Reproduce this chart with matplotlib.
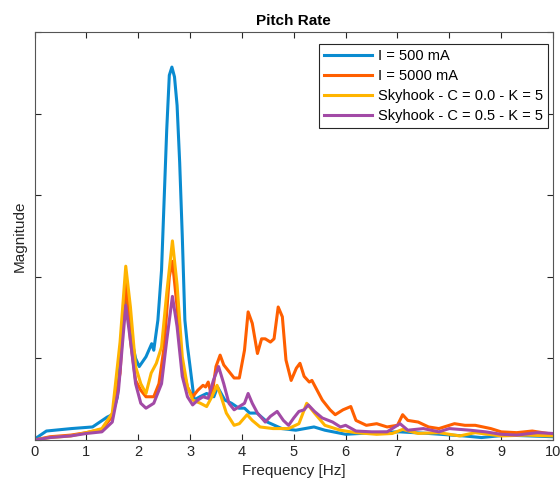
import matplotlib
matplotlib.use("Agg")
import matplotlib.pyplot as plt
import numpy as np

plt.rcParams['font.family'] = ['Liberation Sans', 'DejaVu Sans']

# frequency points [Hz] and magnitudes
f_500 = [0, 0.23, 0.71, 1.12, 1.4, 1.5, 1.6, 1.68, 1.76, 1.85, 1.95, 2.02, 2.15, 2.26, 2.3,
         2.38, 2.45, 2.5, 2.55, 2.6, 2.65, 2.7, 2.75, 2.8, 2.85, 2.9, 2.95, 3.0, 3.08, 3.19,
         3.32, 3.46, 3.53, 3.67, 3.8, 3.94, 4.05, 4.15, 4.29, 4.49, 4.77, 5.04, 5.39, 5.6,
         6.0, 6.56, 7.04, 7.6, 8.28, 8.62, 9.1, 10]
m_500 = [0.01, 0.11, 0.14, 0.16, 0.28, 0.31, 0.53, 1.2, 1.9, 1.3, 1.0, 0.9, 1.02, 1.18, 1.1,
         1.47, 2.08, 2.94, 3.8, 4.47, 4.57, 4.45, 4.1, 3.4, 2.5, 1.47, 1.15, 0.9, 0.49, 0.53,
         0.57, 0.53, 0.65, 0.49, 0.45, 0.39, 0.39, 0.33, 0.33, 0.22, 0.14, 0.12, 0.16, 0.12,
         0.07, 0.09, 0.1, 0.08, 0.05, 0.03, 0.06, 0.04]

f_5000 = [0, 0.3, 0.7, 1.0, 1.3, 1.5, 1.65, 1.76, 1.85, 1.95, 2.05, 2.15, 2.3, 2.4, 2.5, 2.6,
          2.66, 2.75, 2.85, 2.95, 3.05, 3.15, 3.25, 3.3, 3.35, 3.42, 3.5, 3.58, 3.65, 3.75,
          3.85, 3.95, 4.05, 4.12, 4.2, 4.3, 4.38, 4.45, 4.55, 4.62, 4.7, 4.78, 4.85, 4.95,
          5.05, 5.12, 5.2, 5.3, 5.35, 5.45, 5.55, 5.7, 5.8, 5.95, 6.1, 6.2, 6.4, 6.6, 6.8,
          7.0, 7.1, 7.2, 7.4, 7.6, 7.8, 8.1, 8.3, 8.5, 8.8, 9.0, 9.3, 9.6, 9.8, 10]
m_5000 = [0, 0.04, 0.06, 0.09, 0.13, 0.29, 0.82, 2.0, 1.22, 0.73, 0.61, 0.53, 0.53, 0.69,
          1.14, 2.0, 2.19, 1.63, 0.9, 0.65, 0.53, 0.61, 0.67, 0.65, 0.71, 0.53, 0.9, 1.04,
          0.92, 0.84, 0.76, 0.76, 1.1, 1.57, 1.43, 1.06, 1.24, 1.24, 1.2, 1.24, 1.63, 1.51,
          0.98, 0.73, 0.88, 0.94, 0.78, 0.71, 0.73, 0.61, 0.49, 0.37, 0.31, 0.37, 0.41, 0.24,
          0.18, 0.2, 0.16, 0.18, 0.31, 0.24, 0.22, 0.16, 0.14, 0.2, 0.18, 0.18, 0.14, 0.1,
          0.09, 0.11, 0.09, 0.07]

f_sky0 = [0, 0.3, 0.7, 1.0, 1.3, 1.5, 1.65, 1.76, 1.85, 1.95, 2.05, 2.15, 2.25, 2.35, 2.45,
          2.55, 2.66, 2.75, 2.85, 2.95, 3.05, 3.2, 3.32, 3.42, 3.52, 3.6, 3.7, 3.85, 3.95,
          4.1, 4.2, 4.35, 4.6, 4.9, 5.1, 5.25, 5.4, 5.6, 5.9, 6.2, 6.6, 6.9, 7.1, 7.4, 7.8,
          8.2, 8.5, 9.0, 9.5, 10]
m_sky0 = [0, 0.03, 0.05, 0.09, 0.14, 0.33, 1.2, 2.13, 1.63, 0.9, 0.69, 0.57, 0.82, 0.94,
          1.14, 1.8, 2.44, 1.9, 1.02, 0.65, 0.49, 0.45, 0.41, 0.53, 0.67, 0.53, 0.33, 0.18,
          0.2, 0.31, 0.24, 0.16, 0.14, 0.14, 0.2, 0.45, 0.33, 0.18, 0.12, 0.09, 0.07, 0.08,
          0.13, 0.08, 0.09, 0.05, 0.09, 0.05, 0.06, 0.05]

f_sky05 = [0, 0.3, 0.7, 1.0, 1.3, 1.5, 1.62, 1.76, 1.85, 1.95, 2.05, 2.15, 2.3, 2.45, 2.55,
           2.66, 2.75, 2.85, 2.95, 3.05, 3.15, 3.25, 3.35, 3.45, 3.55, 3.65, 3.75, 3.85,
           3.95, 4.05, 4.12, 4.2, 4.3, 4.45, 4.55, 4.68, 4.8, 4.9, 5.0, 5.1, 5.2, 5.28, 5.4,
           5.55, 5.75, 5.9, 6.0, 6.2, 6.5, 6.8, 7.05, 7.2, 7.5, 7.8, 8.0, 8.4, 8.7, 9.0, 9.3,
           9.7, 10]
m_sky05 = [0, 0.03, 0.05, 0.08, 0.1, 0.22, 0.61, 1.65, 1.22, 0.69, 0.45, 0.39, 0.45, 0.69,
           1.22, 1.76, 1.39, 0.78, 0.53, 0.43, 0.49, 0.53, 0.51, 0.73, 0.9, 0.69, 0.45, 0.37,
           0.41, 0.45, 0.57, 0.45, 0.33, 0.22, 0.29, 0.35, 0.24, 0.18, 0.27, 0.35, 0.37, 0.43,
           0.35, 0.27, 0.22, 0.16, 0.18, 0.11, 0.1, 0.1, 0.2, 0.12, 0.14, 0.1, 0.14, 0.12, 0.1,
           0.07, 0.06, 0.09, 0.08]

labels = ['I = 500 mA', 'I = 5000 mA', 'Skyhook - C = 0.0 - K = 5', 'Skyhook - C = 0.5 - K = 5']
colors = ['#0a8bd0', '#ff5f00', '#ffb400', '#a24aa6']

fig = plt.figure(figsize=(5.6, 4.92), dpi=100)
ax = fig.add_axes([34.5 / 560, 52 / 492, 518.5 / 560, 408 / 492])

series = [(f_500, m_500), (f_5000, m_5000), (f_sky0, m_sky0), (f_sky05, m_sky05)]
for (f, m), lab, c in zip(series, labels, colors):
    ax.plot(f, m, color=c, lw=2.2, label=lab)

ax.set_xlim(0, 10)
ax.set_ylim(0, 5)
ax.set_xticks(range(11))
ax.set_yticks(range(6))
ax.set_yticklabels([])
ax.tick_params(direction='in', top=True, right=True, length=4, labelsize=10.5,
               colors='#262626')
for s in ax.spines.values():
    s.set_color('#555555')
    s.set_linewidth(0.8)

ax.set_title('Pitch Rate', fontsize=11, fontweight='bold', pad=5)
ax.set_xlabel('Frequency [Hz]', fontsize=11, color='#262626')
ax.set_ylabel('Magnitude', fontsize=11, color='#262626', labelpad=2)

leg = ax.legend(loc='upper right', bbox_to_anchor=(0.99, 0.971), borderaxespad=0,
                fontsize=10.5, fancybox=False, framealpha=1, edgecolor='#262626',
                handlelength=3.3, handletextpad=0.35, labelspacing=0.42, borderpad=0.35)
leg.get_frame().set_linewidth(0.8)

fig.savefig('out.png', dpi=100)
